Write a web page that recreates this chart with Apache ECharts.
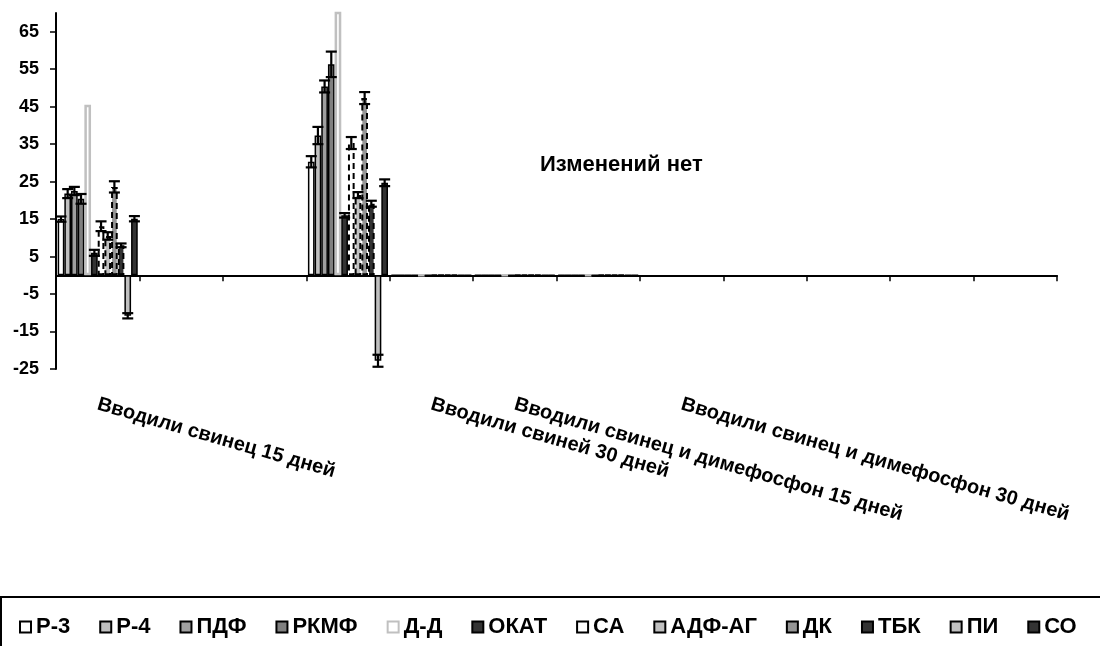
<!DOCTYPE html>
<html>
<head>
<meta charset="utf-8">
<script src="https://cdn.jsdelivr.net/npm/echarts@6/dist/echarts.min.js"></script>
<style>
  html, body { margin: 0; padding: 0; background: #fff; }
  #chart { width: 1100px; height: 646px; }
</style>
</head>
<body>
<div id="chart"></div>
<script>
// Category tick labels (12 slots along the axis, only some are labelled)
const tickLabels = [
  'Вводили свинец 15 дней', '', '', '',
  'Вводили свиней 30 дней', 'Вводили свинец и димефосфон 15 дней', '',
  'Вводили свинец и димефосфон 30 дней', '', '', '', ''
];
const yTicks = [-25, -15, -5, 5, 15, 25, 35, 45, 55, 65];

const seriesNames = ['Р-3', 'Р-4', 'ПДФ', 'РКМФ', 'Д-Д', 'ОКАТ', 'СА', 'АДФ-АГ', 'ДК', 'ТБК', 'ПИ', 'СО'];

// Mean values per category slot
const r3    = [15.0, null, null, 30.3, 0, 0, 0, null, null, null, null, null];
const r4    = [21.8, null, null, 37.3, 0, 0, 0, null, null, null, null, null];
const pdf   = [22.5, null, null, 50.4, 0, 0, 0, null, null, null, null, null];
const rkmf  = [20.4, null, null, 56.3, 0, 0, 0, null, null, null, null, null];
const dd    = [45.5, null, null, 72.0, 0, 0, 0, null, null, null, null, null];
const okat  = [6.0,  null, null, 16.0, 0, 0, 0, null, null, null, null, null];
const sa    = [13.1, null, null, 35.3, 0, 0, 0, null, null, null, null, null];
const adfag = [10.5, null, null, 21.4, 0, 0, 0, null, null, null, null, null];
const dk    = [23.6, null, null, 47.3, 0, 0, 0, null, null, null, null, null];
const tbk   = [8.0,  null, null, 19.1, 0, 0, 0, null, null, null, null, null];
const pi    = [-10.8, null, null, -22.8, 0, 0, 0, null, null, null, null, null];
const so    = [15.1, null, null, 24.7, 0, 0, 0, null, null, null, null, null];

// Error half-widths per category slot
const r3Err    = [0.7, null, null, 1.5, null, null, null, null, null, null, null, null];
const r4Err    = [1.2, null, null, 2.3, null, null, null, null, null, null, null, null];
const pdfErr   = [1.1, null, null, 1.6, null, null, null, null, null, null, null, null];
const rkmfErr  = [1.3, null, null, 3.4, null, null, null, null, null, null, null, null];
const ddErr    = [null, null, null, null, null, null, null, null, null, null, null, null];
const okatErr  = [0.8, null, null, 0.6, null, null, null, null, null, null, null, null];
const saErr    = [1.3, null, null, 1.6, null, null, null, null, null, null, null, null];
const adfagErr = [1.0, null, null, 0.8, null, null, null, null, null, null, null, null];
const dkErr    = [1.5, null, null, 1.6, null, null, null, null, null, null, null, null];
const tbkErr   = [0.5, null, null, 0.8, null, null, null, null, null, null, null, null];
const piErr    = [0.7, null, null, 1.6, null, null, null, null, null, null, null, null];
const soErr    = [0.7, null, null, 0.9, null, null, null, null, null, null, null, null];

const seriesValues = [r3, r4, pdf, rkmf, dd, okat, sa, adfag, dk, tbk, pi, so];
const seriesErrors = [r3Err, r4Err, pdfErr, rkmfErr, ddErr, okatErr, saErr, adfagErr, dkErr, tbkErr, piErr, soErr];

const FONT = "'Liberation Sans', Arial, sans-serif";
const CAT_GAP = 0.04;
const dash = [6, 4];

const barStyles = [
  { color: '#ffffff', borderColor: '#000', borderWidth: 1.5 },
  { color: '#c0c0c0', borderColor: '#000', borderWidth: 1.5 },
  { color: '#a0a0a0', borderColor: '#000', borderWidth: 1.5 },
  { color: '#808080', borderColor: '#000', borderWidth: 1.5 },
  { color: '#ffffff', borderColor: '#c0c0c0', borderWidth: 2.5 },
  { color: '#333333', borderColor: '#000', borderWidth: 1.5 },
  { color: '#ffffff', borderColor: '#000', borderWidth: 2, borderType: dash },
  { color: '#c0c0c0', borderColor: '#000', borderWidth: 2, borderType: dash },
  { color: '#969696', borderColor: '#000', borderWidth: 2, borderType: dash },
  { color: '#333333', borderColor: '#000', borderWidth: 2, borderType: dash },
  { color: '#c0c0c0', borderColor: '#000', borderWidth: 1.5 },
  { color: '#333333', borderColor: '#000', borderWidth: 1.5 }
];

// Error bar (I-beam) drawn at the position of bar k inside its category band
function errorBarRenderer(k) {
  return function (params, api) {
    const i = api.value(0), v = api.value(1), e = api.value(2);
    const bandW = api.size([1, 0])[0];
    const inner = bandW * (1 - CAT_GAP);
    const bw = inner / seriesNames.length;
    const x = api.coord([i, 0])[0] - inner / 2 + bw * (k + 0.5);
    const yHi = api.coord([i, v + e])[1];
    const yLo = api.coord([i, v - e])[1];
    const hw = 5.5;
    const style = { stroke: '#000', lineWidth: 2.2 };
    return {
      type: 'group',
      children: [
        { type: 'line', shape: { x1: x, y1: yHi, x2: x, y2: yLo }, style },
        { type: 'line', shape: { x1: x - hw, y1: yHi, x2: x + hw, y2: yHi }, style },
        { type: 'line', shape: { x1: x - hw, y1: yLo, x2: x + hw, y2: yLo }, style }
      ]
    };
  };
}

const series = [];
seriesNames.forEach((name, k) => {
  series.push({
    name,
    type: 'bar',
    xAxisIndex: 0,
    barGap: '0%',
    barCategoryGap: (CAT_GAP * 100) + '%',
    itemStyle: barStyles[k],
    data: seriesValues[k],
    z: 2
  });
});
seriesNames.forEach((name, k) => {
  const pts = [];
  seriesErrors[k].forEach((e, i) => {
    if (e != null && seriesValues[k][i] != null) pts.push([i, seriesValues[k][i], e]);
  });
  if (!pts.length) return;
  series.push({
    name: name + ' err',
    type: 'custom',
    xAxisIndex: 0,
    renderItem: errorBarRenderer(k),
    encode: { x: 0, y: 1 },
    data: pts,
    z: 5
  });
});

const chart = echarts.init(document.getElementById('chart'), null, { renderer: 'canvas' });
chart.setOption({
  animation: false,
  backgroundColor: '#ffffff',
  grid: { left: 56, right: 43, top: 13, bottom: 277, containLabel: false },
  xAxis: [
    {
      type: 'category',
      data: tickLabels,
      position: 'top',
      boundaryGap: true,
      axisLine: { show: true, onZero: true, lineStyle: { color: '#000', width: 2 } },
      axisTick: { show: true, inside: true, interval: 0, length: 6, lineStyle: { color: '#000', width: 1.5 } },
      axisLabel: { show: false },
      splitLine: { show: false }
    },
    {
      type: 'category',
      data: tickLabels,
      position: 'bottom',
      boundaryGap: true,
      axisLine: { show: false, onZero: false },
      axisTick: { show: false },
      axisLabel: {
        interval: 0, rotate: -16, margin: 35,
        color: '#000', fontFamily: FONT, fontWeight: 'bold', fontSize: 20
      },
      splitLine: { show: false }
    }
  ],
  yAxis: {
    type: 'value',
    min: -25, max: 70, interval: 10,
    axisLine: { show: true, lineStyle: { color: '#000', width: 2 } },
    axisTick: { show: true, length: 6, customValues: yTicks, lineStyle: { color: '#000', width: 1.5 } },
    axisLabel: {
      customValues: yTicks, margin: 17,
      color: '#000', fontFamily: FONT, fontWeight: 'bold', fontSize: 18
    },
    splitLine: { show: false }
  },
  legend: {
    data: seriesNames,
    left: 14, top: 611,
    icon: 'rect',
    itemWidth: 11, itemHeight: 11, itemGap: 29,
    textStyle: { color: '#000', fontFamily: FONT, fontWeight: 'bold', fontSize: 22 },
    selectedMode: false,
    width: 1400
  },
  graphic: [
    {
      type: 'rect',
      shape: { x: 1, y: 597, width: 1120, height: 80 },
      style: { fill: 'none', stroke: '#000', lineWidth: 2 },
      silent: true
    },
    {
      type: 'text',
      left: 540, top: 154,
      style: { text: 'Изменений нет', fill: '#000', font: "bold 22px 'Liberation Sans', Arial, sans-serif" },
      silent: true
    }
  ],
  series
});
</script>
</body>
</html>
